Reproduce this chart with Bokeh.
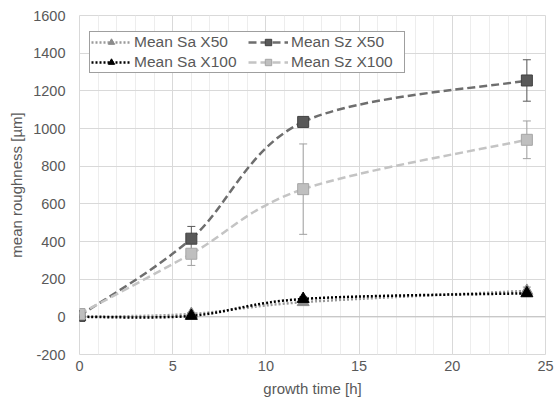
from bokeh.plotting import figure
from bokeh.models import (ColumnDataSource, Whisker, TeeHead, Legend, LegendItem,
                          SingleIntervalTicker, FixedTicker, Span)
from bokeh.embed import file_html
from bokeh.resources import INLINE

# growth time [h]
time_h = [0, 6, 12, 24]

# mean roughness [µm] and standard deviations
sa_x50 = [0, 15, 78, 138]
sa_x50_err = [0, 8, 12, 20]
sa_x100 = [0, 5, 95, 125]
sa_x100_err = [0, 6, 10, 15]
sz_x50 = [5, 415, 1035, 1255]
sz_x50_err = [0, 65, 0, 110]
sz_x100 = [15, 335, 678, 940]
sz_x100_err = [0, 62, 240, 100]

y_ticks = [-200, 0, 200, 400, 600, 800, 1000, 1200, 1400, 1600]
y_tick_labels = [str(t) for t in y_ticks]

FONT = "Liberation Sans"
TXT = "#595959"

p = figure(width=554, height=408, x_range=(0, 25), y_range=(-200, 1600),
           output_backend="svg", toolbar_location=None,
           min_border_left=79, min_border_right=9, min_border_top=15,
           min_border_bottom=54)

p.outline_line_color = "#d9d9d9"
p.background_fill_color = "white"

# grid: major + minor verticals, major horizontals
p.xaxis.ticker = SingleIntervalTicker(interval=5, num_minor_ticks=5)
p.yaxis.ticker = FixedTicker(ticks=y_ticks)
p.yaxis.major_label_overrides = dict(zip(y_ticks, y_tick_labels))
p.xgrid.grid_line_color = "#d9d9d9"
p.xgrid.minor_grid_line_color = "#ededed"
p.ygrid.grid_line_color = "#d9d9d9"
p.add_layout(Span(location=0, dimension="width", line_color="#bfbfbf", line_width=1, level="underlay"))

for ax in (p.xaxis, p.yaxis):
    ax.axis_line_color = None
    ax.major_tick_line_color = None
    ax.minor_tick_line_color = None
    ax.major_tick_out = 0
    ax.major_tick_in = 0
    ax.minor_tick_out = 0
    ax.minor_tick_in = 0
    ax.major_label_text_font = FONT
    ax.major_label_text_font_size = "14.5px"
    ax.major_label_text_color = TXT
    ax.axis_label_text_font = FONT
    ax.axis_label_text_font_size = "15px"
    ax.axis_label_text_color = TXT
    ax.axis_label_text_font_style = "normal"

p.xaxis.axis_label = "growth time [h]"
p.yaxis.axis_label = "mean roughness [µm]"
p.xaxis.major_label_standoff = 6
p.yaxis.major_label_standoff = 14
p.xaxis.axis_label_standoff = 6
p.yaxis.axis_label_standoff = 5


def bezier_controls(xs, ys):
    """Catmull-Rom style control points for a smoothed line through the points."""
    n = len(xs)
    x0, y0, x1, y1, cx0, cy0, cx1, cy1 = [], [], [], [], [], [], [], []
    for i in range(n - 1):
        xp, yp = (xs[i - 1], ys[i - 1]) if i > 0 else (xs[i], ys[i])
        xn, yn = (xs[i + 2], ys[i + 2]) if i + 2 < n else (xs[i + 1], ys[i + 1])
        x0.append(xs[i]); y0.append(ys[i])
        x1.append(xs[i + 1]); y1.append(ys[i + 1])
        cx0.append(xs[i] + (xs[i + 1] - xp) / 6)
        cy0.append(ys[i] + (ys[i + 1] - yp) / 6)
        cx1.append(xs[i + 1] - (xn - xs[i]) / 6)
        cy1.append(ys[i + 1] - (yn - ys[i]) / 6)
    return dict(x0=x0, y0=y0, x1=x1, y1=y1, cx0=cx0, cy0=cy0, cx1=cx1, cy1=cy1)


series = [
    # label, values, errors, marker, fill, marker line, line color, dash, error color
    ("Mean Sa X50", sa_x50, sa_x50_err, "triangle", "#8c8c8c", "#8c8c8c", "#9a9a9a", "2 2", "#8c8c8c"),
    ("Mean Sz X50", sz_x50, sz_x50_err, "square", "#595959", "#404040", "#6e6e6e", "8 4", "#595959"),
    ("Mean Sa X100", sa_x100, sa_x100_err, "triangle", "#000000", "#000000", "#000000", "2 2", "#000000"),
    ("Mean Sz X100", sz_x100, sz_x100_err, "square", "#bfbfbf", "#a6a6a6", "#c4c4c4", "8 4", "#a0a0a0"),
]

nan = float("nan")
# draw order: Sa X50, Sa X100, Sz X50, Sz X100 (X100 on top)
draw_order = [0, 2, 1, 3]
legend_parts = {}
for idx in draw_order:
    label, vals, errs, marker, fill, mline, lcol, dash, ecol = series[idx]
    esrc = ColumnDataSource(dict(x=time_h,
                                 upper=[v + e for v, e in zip(vals, errs)],
                                 lower=[v - e for v, e in zip(vals, errs)]))
    w = Whisker(source=esrc, base="x", upper="upper", lower="lower",
                line_color=ecol, line_width=1, level="underlay",
                upper_head=TeeHead(size=8, line_color=ecol, line_width=1),
                lower_head=TeeHead(size=8, line_color=ecol, line_width=1))
    p.add_layout(w)
    p.bezier(source=ColumnDataSource(bezier_controls(time_h, vals)),
             x0="x0", y0="y0", x1="x1", y1="y1", cx0="cx0", cy0="cy0", cx1="cx1", cy1="cy1",
             line_color=lcol, line_width=2.5, line_dash=dash)
    # placeholder line that only provides the legend glyph
    lr = p.line(x=[nan, nan], y=[nan, nan], line_color=lcol, line_width=2.5, line_dash=dash)
    size = 12 if marker == "triangle" else 11
    sr = p.scatter(x=time_h, y=vals, marker=marker, size=size,
                   fill_color=fill, line_color=mline, line_width=1)
    legend_parts[idx] = [lr, sr]

# legend fills column-wise: Sa entries in the first column, Sz entries in the second
items = [LegendItem(label=series[i][0], renderers=legend_parts[i]) for i in (0, 2, 1, 3)]
legend = Legend(items=items, ncols=2, location=(10, 281),
                label_text_font=FONT, label_text_font_size="15.5px", label_text_color=TXT,
                border_line_color="#404040", border_line_width=1,
                background_fill_color="white", background_fill_alpha=1,
                glyph_width=40, glyph_height=16, label_height=16, label_width=112,
                spacing=2, padding=1, margin=0, label_standoff=3)
p.add_layout(legend)

open("out.html", "w").write(file_html(p, INLINE))
